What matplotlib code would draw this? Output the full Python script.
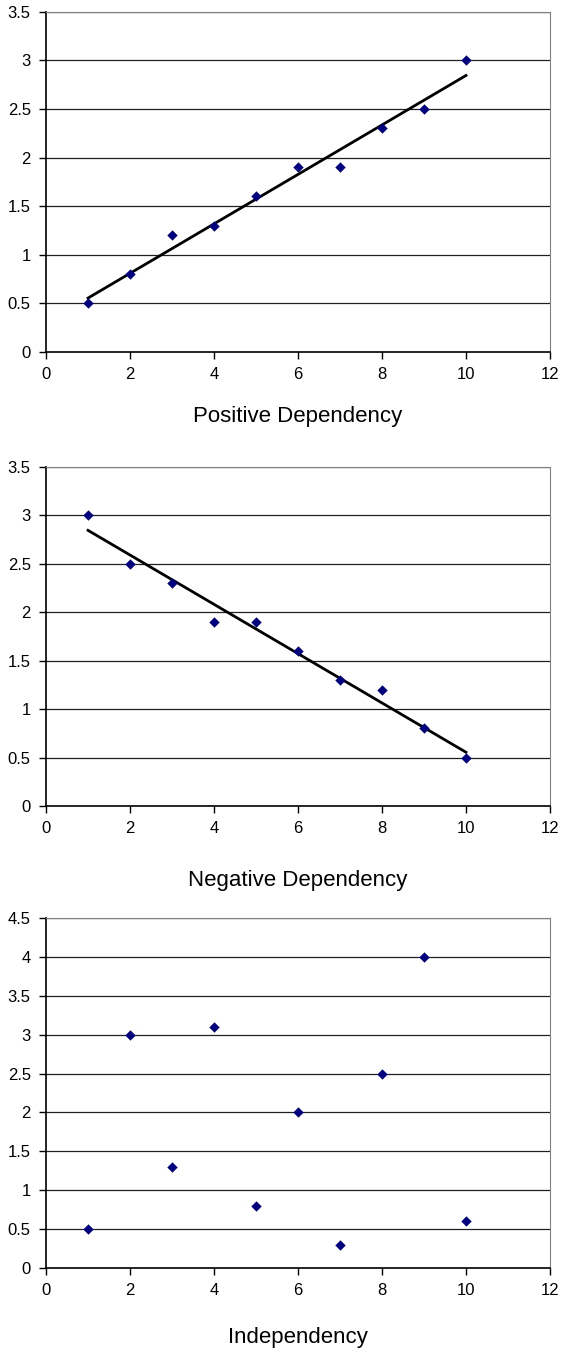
import numpy as np
import matplotlib
matplotlib.use("Agg")
import matplotlib.pyplot as plt

plt.rcParams["font.family"] = ["Liberation Sans", "DejaVu Sans"]

x_vals = [1, 2, 3, 4, 5, 6, 7, 8, 9, 10]
pos_y = [0.5, 0.8, 1.2, 1.3, 1.6, 1.9, 1.9, 2.3, 2.5, 3.0]
neg_y = [3.0, 2.5, 2.3, 1.9, 1.9, 1.6, 1.3, 1.2, 0.8, 0.5]
ind_y = [0.5, 3.0, 1.3, 3.1, 0.8, 2.0, 0.3, 2.5, 4.0, 0.6]

titles = ["Positive Dependency", "Negative Dependency", "Independency"]
y_tops = [3.5, 3.5, 4.5]
trend = [True, True, False]
label_pads = [17, 24, 21]

# axes boxes in figure fractions: left, bottom, width, height
boxes = [
    [0.0819, 0.7393, 0.8967, 0.2519],
    [0.0819, 0.4030, 0.8967, 0.2511],
    [0.0819, 0.0607, 0.8967, 0.2593],
]

fig = plt.figure(figsize=(5.62, 13.5), dpi=100)

for ys, title, ytop, fit, box, lp in zip([pos_y, neg_y, ind_y], titles, y_tops, trend, boxes, label_pads):
    ax = fig.add_axes(box)
    yt = np.arange(0, ytop + 0.01, 0.5)
    ax.set_xlim(0, 12)
    ax.set_ylim(0, ytop)
    ax.set_xticks(range(0, 13, 2))
    ax.set_yticks(yt)
    ax.set_yticklabels([f"{v:g}" for v in yt])
    for v in yt[1:]:
        ax.axhline(v, color="#202020", lw=0.9, zorder=1)
    if fit:
        # least-squares trendline through the points
        k, b = np.polyfit(x_vals, ys, 1)
        xx = np.array([x_vals[0], x_vals[-1]])
        ax.plot(xx, k * xx + b, color="black", lw=2, zorder=2)
    ax.scatter(x_vals, ys, marker="D", s=28, color="#000080", zorder=3, linewidths=0)
    ax.spines["top"].set_color("#808080")
    ax.spines["right"].set_color("#808080")
    ax.spines["left"].set_linewidth(1.2)
    ax.spines["bottom"].set_linewidth(1.2)
    ax.tick_params(direction="out", length=5, width=1, labelsize=12, pad=6)
    ax.set_xlabel(title, fontsize=16, labelpad=lp)

fig.savefig("out.png", dpi=100)
